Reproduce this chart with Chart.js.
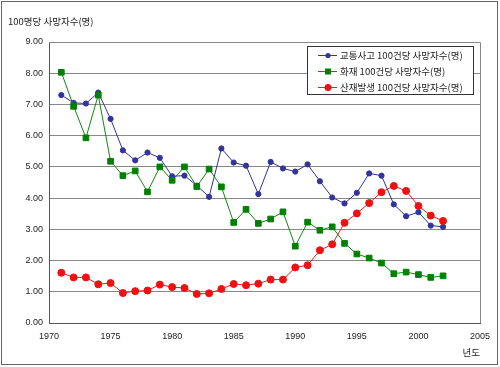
<!DOCTYPE html>
<html>
<head>
<meta charset="utf-8">
<script src="https://cdn.jsdelivr.net/npm/chart.js@4.4.1/dist/chart.umd.min.js"></script>
<style>
  html, body { margin: 0; padding: 0; background: #ffffff; }
  #wrap { width: 500px; height: 367px; position: relative; }
</style>
</head>
<body>
<div id="wrap"><canvas id="c" width="500" height="367"></canvas></div>
<script>
const years = [1971,1972,1973,1974,1975,1976,1977,1978,1979,1980,1981,1982,1983,1984,1985,1986,1987,1988,1989,1990,1991,1992,1993,1994,1995,1996,1997,1998,1999,2000,2001,2002];
const traffic = [7.30,7.05,7.03,7.38,6.54,5.53,5.21,5.46,5.29,4.70,4.72,4.40,4.04,5.59,5.14,5.04,4.13,5.16,4.95,4.85,5.08,4.54,4.02,3.83,4.17,4.79,4.72,3.80,3.42,3.55,3.12,3.08];
const fire = [8.03,6.94,5.93,7.30,5.18,4.72,4.87,4.20,5.00,4.57,5.00,4.37,4.93,4.36,3.22,3.64,3.19,3.33,3.56,2.46,3.23,2.97,3.08,2.55,2.21,2.08,1.92,1.58,1.63,1.55,1.46,1.51];
const industrial = [1.61,1.46,1.46,1.24,1.28,0.96,1.02,1.04,1.23,1.15,1.12,0.93,0.95,1.09,1.25,1.21,1.26,1.39,1.39,1.78,1.85,2.33,2.52,3.21,3.51,3.84,4.19,4.39,4.23,3.75,3.44,3.27];
const seriesLabels = ['교통사고 100건당 사망자수(명)', '화재 100건당 사망자수(명)', '산재발생 100건당 사망자수(명)'];
const yTitle = '100명당 사망자수(명)';
const xTitle = '년도';

const KFONT = '"Noto Sans CJK KR", "Noto Sans", sans-serif';
const TFONT = '"Liberation Sans", Arial, sans-serif';

function pts(vals) { return years.map((y, i) => ({ x: y, y: vals[i] })); }

const decor = {
  id: 'decor',
  beforeDraw(chart) {
    const ctx = chart.ctx;
    ctx.save();
    ctx.fillStyle = '#ffffff';
    ctx.fillRect(0, 0, chart.width, chart.height);
    ctx.restore();
  },
  afterDraw(chart) {
    const ctx = chart.ctx;
    const a = chart.chartArea;
    ctx.save();
    ctx.strokeStyle = '#888888';
    ctx.lineWidth = 1;
    ctx.beginPath();
    ctx.moveTo(a.left, Math.round(a.top) + 0.5);
    ctx.lineTo(Math.round(a.right) + 0.5, Math.round(a.top) + 0.5);
    ctx.lineTo(Math.round(a.right) + 0.5, a.bottom);
    ctx.stroke();
    ctx.strokeStyle = '#666666';
    ctx.strokeRect(1.5, 1.5, 496, 363);
    ctx.fillStyle = '#222222';
    ctx.font = '9.5px ' + KFONT;
    ctx.textBaseline = 'middle';
    ctx.textAlign = 'left';
    ctx.fillText(yTitle, 8, 21);
    ctx.textAlign = 'right';
    ctx.fillText(xTitle, 480, 352);
    const lx = 307.5, ly = 46.5, lw = 166, lh = 48;
    ctx.fillStyle = '#ffffff';
    ctx.fillRect(lx, ly, lw, lh);
    ctx.strokeStyle = '#333333';
    ctx.strokeRect(lx, ly, lw, lh);
    const rows = [55, 71, 87];
    chart.data.datasets.forEach((ds, i) => {
      const y = rows[i];
      ctx.strokeStyle = ds.borderColor;
      ctx.lineWidth = 1;
      ctx.beginPath();
      ctx.moveTo(318, y + 0.5);
      ctx.lineTo(337, y + 0.5);
      ctx.stroke();
      ctx.fillStyle = ds.pointBackgroundColor;
      if (ds.pointStyle === 'rect') {
        ctx.fillRect(328 - 3, y - 2.5, 6, 6);
      } else {
        ctx.beginPath();
        ctx.arc(328, y + 0.5, ds.pointRadius, 0, Math.PI * 2);
        ctx.fill();
      }
      ctx.fillStyle = '#222222';
      ctx.font = '9.5px ' + KFONT;
      ctx.textAlign = 'left';
      ctx.textBaseline = 'middle';
      ctx.fillText(ds.label, 340, y + 0.5);
    });
    ctx.restore();
  }
};

new Chart(document.getElementById('c'), {
  type: 'line',
  data: {
    datasets: [
      { label: seriesLabels[0], data: pts(traffic), borderColor: '#333399', backgroundColor: '#333399',
        pointBackgroundColor: '#333399', pointBorderColor: '#333399', pointStyle: 'circle', pointRadius: 2.6,
        borderWidth: 1, tension: 0, order: 3 },
      { label: seriesLabels[1], data: pts(fire), borderColor: '#118811', backgroundColor: '#008000',
        pointBackgroundColor: '#008000', pointBorderColor: '#008000', pointStyle: 'rect', pointRadius: 4,
        borderWidth: 1, tension: 0, order: 2 },
      { label: seriesLabels[2], data: pts(industrial), borderColor: '#dd2222', backgroundColor: '#ee1111',
        pointBackgroundColor: '#ee1111', pointBorderColor: '#ee1111', pointStyle: 'circle', pointRadius: 3.5,
        borderWidth: 1, tension: 0, order: 1 }
    ]
  },
  options: {
    responsive: false,
    animation: false,
    devicePixelRatio: 1,
    layout: { padding: { left: 0, top: 42, right: 20, bottom: 0 } },
    plugins: { legend: { display: false }, tooltip: { enabled: false } },
    scales: {
      x: {
        type: 'linear', min: 1970, max: 2005,
        grid: { display: false, drawTicks: false },
        border: { display: true, color: '#555555', width: 1 },
        ticks: { stepSize: 5, padding: 8, color: '#222222', font: { family: TFONT, size: 9 },
          maxRotation: 0, callback: v => String(v) },
        afterFit: s => { s.height = 44; }
      },
      y: {
        min: 0, max: 9,
        grid: { color: '#888888', lineWidth: 1, drawTicks: false },
        border: { display: true, color: '#555555', width: 1 },
        ticks: { stepSize: 1, padding: 6, color: '#222222', font: { family: TFONT, size: 9 },
          callback: v => Number(v).toFixed(2) },
        afterFit: s => { s.width = 49; }
      }
    }
  },
  plugins: [decor]
});
</script>
</body>
</html>
